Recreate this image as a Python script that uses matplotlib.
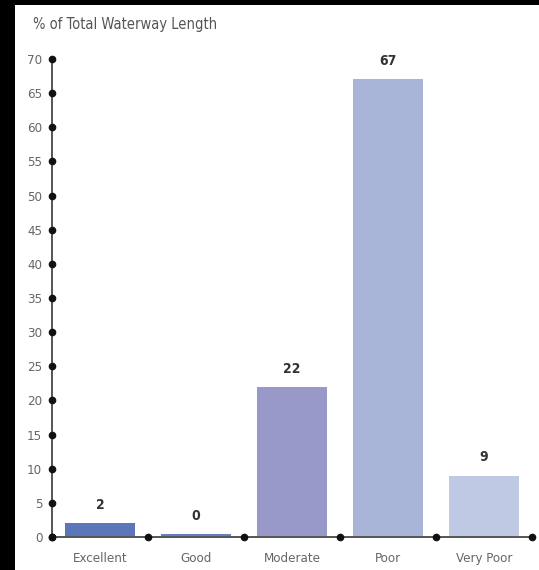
import numpy as np
import matplotlib
matplotlib.use("Agg")
from matplotlib import pyplot as plt
from matplotlib.patches import Rectangle

plt.rcParams['font.family'] = ['Liberation Sans Narrow', 'DejaVu Sans']
plt.rcParams['font.stretch'] = 'condensed'

categories = ['Excellent', 'Good', 'Moderate', 'Poor', 'Very Poor']
percent = [2, 0.4, 22, 67, 9]
bar_colors = ['#5b77b9', '#6680bd', '#9898c9', '#a8b5d9', '#c0c9e4']
y_ticks = list(range(0, 75, 5))


def main():
    fig = plt.figure(figsize=(5.39, 5.70), dpi=100)
    fig.patch.set_facecolor('black')
    # white panel inside the black frame
    fig.add_artist(Rectangle((15 / 539, 0), 1, 565 / 570,
                             transform=fig.transFigure,
                             facecolor='white', edgecolor='none', zorder=0))

    ax = fig.add_axes([52 / 539, 33 / 570, 480 / 539, 478 / 570])
    ax.set_facecolor('white')
    x = np.arange(len(categories))
    bars = ax.bar(x, percent, width=0.72, color=bar_colors, zorder=2)
    ax.bar_label(bars, labels=['%.0f' % v for v in percent], padding=8,
                 fontsize=10, fontweight='bold', color='#333333')

    ax.set_xlim(-0.5, len(categories) - 0.5)
    ax.set_ylim(0, 70)
    for s in ax.spines.values():
        s.set_visible(False)

    # axis lines with dot markers
    ax.plot([-0.5] * len(y_ticks), y_ticks, color='#555555', lw=1.4,
            marker='o', ms=4.5, mfc='#111111', mec='#111111',
            clip_on=False, zorder=3)
    edges = np.arange(len(categories) + 1) - 0.5
    ax.plot(edges, [0] * len(edges), color='#555555', lw=1.4,
            marker='o', ms=4.5, mfc='#111111', mec='#111111',
            clip_on=False, zorder=3)

    ax.set_yticks(y_ticks)
    ax.set_yticklabels([str(t) for t in y_ticks])
    ax.set_xticks(x)
    ax.set_xticklabels(categories)
    ax.tick_params(axis='both', length=0, labelsize=9.5, colors='#666666')
    ax.tick_params(axis='y', pad=7)
    ax.tick_params(axis='x', pad=11)

    fig.text(33 / 539, 1 - 25 / 570, '% of Total Waterway Length',
             fontsize=10.5, color='#555555', va='center', ha='left')

    fig.savefig('out.png', dpi=100, facecolor=fig.get_facecolor())


if __name__ == "__main__":
    main()
